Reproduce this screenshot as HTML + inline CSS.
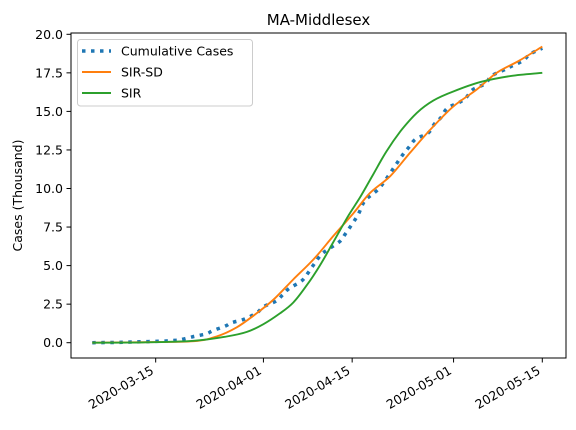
<!DOCTYPE html>
<html><head><meta charset="utf-8"><style>body{margin:0;background:#fff}svg{display:block;font-family:"DejaVu Sans","Liberation Sans",sans-serif}</style></head>
<body>
<svg id="c" width="576" height="430"></svg>
<script>
const xTickLabels=["2020-03-15","2020-04-01","2020-04-15","2020-05-01","2020-05-15"];
const xTickDays=[10,27,41,57,71];
const yTicks=[0,2.5,5,7.5,10,12.5,15,17.5,20];
const yTickLabels=["0.0","2.5","5.0","7.5","10.0","12.5","15.0","17.5","20.0"];
const casesDays=[0,4,7,11,13,14,16,18,19,21,22,24,26,27,29,30,31,33,34,35,36,37,39,40,41,42,43,45,46,47,48,49,50,51,53,54,55,56,58,59,60,62,63,65,66,68,69,71];
const casesVals=[0,0.02,0.05,0.1,0.15,0.2,0.4,0.58,0.78,1.08,1.3,1.53,1.95,2.33,2.7,3.09,3.5,4.0,4.5,5.1,5.66,6.0,6.55,7.1,7.7,8.35,9.2,9.9,10.4,11.0,11.6,12.2,12.7,13.2,13.6,14.2,14.6,15.2,15.6,15.9,16.4,16.8,17.3,17.7,17.9,18.3,18.7,19.1];
const sirsdDays=[0,8,16,19.6,22.8,25.9,28.6,31.7,34.9,38,41.2,43.8,47,50.1,53.3,56.9,60.6,63.8,67.4,71];
const sirsdVals=[0,0.03,0.1,0.4,1.0,1.9,2.8,4.1,5.4,6.9,8.4,9.7,10.8,12.3,13.8,15.3,16.4,17.5,18.3,19.2];
const sirDays=[0,8,16,21.2,24.4,27,29.6,31.7,33.8,35.9,38,40.2,42.2,44.3,46.4,48.6,51.2,53.8,57,61.2,66.1,71];
const sirVals=[0,0.02,0.12,0.4,0.7,1.2,1.9,2.6,3.7,5.0,6.5,8.1,9.4,10.9,12.4,13.7,14.9,15.7,16.3,16.9,17.3,17.5];

const L=71,R=566,T=33,B=358;
const X=d=>92.3+6.338*d;
const Y=v=>342.7-15.42*v;
const svg=document.getElementById('c');
const NS='http://www.w3.org/2000/svg';
function mk(t,a,p){const e=document.createElementNS(NS,t);for(const k in a)e.setAttribute(k,a[k]);(p||svg).appendChild(e);return e;}

const title=mk('text',{x:(L+R)/2,y:T-8,'text-anchor':'middle','font-size':15});


title.textContent='MA-Middlesex';

const yl=mk('text',{x:0,y:0,'text-anchor':'middle','font-size':12.5,transform:`translate(22,${(T+B)/2}) rotate(-90)`});


yl.textContent='Cases (Thousand)';

yTicks.forEach((v,i)=>{
  const tk=mk('line',{x1:L-4.5,x2:L,y1:Y(v),y2:Y(v),stroke:'#000','stroke-width':1});
  
  
  const t=mk('text',{x:L-8,y:Y(v)+4.5,'text-anchor':'end','font-size':12.5});
  
  
  t.textContent=yTickLabels[i];
});
xTickDays.forEach((d,i)=>{
  const tk=mk('line',{x1:X(d),x2:X(d),y1:B,y2:B+4.5,stroke:'#000','stroke-width':1});
  
  
  const t=mk('text',{x:0,y:0,'text-anchor':'end','font-size':12.5,transform:`translate(${X(d)-1},${B+15}) rotate(-30)`});
  
  
  t.textContent=xTickLabels[i];
});

function smooth(ds,vs){
  const p=ds.map((d,i)=>[X(d),Y(vs[i])]);
  let s='M'+p[0][0].toFixed(1)+','+p[0][1].toFixed(1);
  for(let i=0;i<p.length-1;i++){
    const p0=p[Math.max(0,i-1)],p1=p[i],p2=p[i+1],p3=p[Math.min(p.length-1,i+2)];
    const c1=[p1[0]+(p2[0]-p0[0])/6,p1[1]+(p2[1]-p0[1])/6];
    const c2=[p2[0]-(p3[0]-p1[0])/6,p2[1]-(p3[1]-p1[1])/6];
    s+=` C${c1[0].toFixed(1)},${c1[1].toFixed(1)} ${c2[0].toFixed(1)},${c2[1].toFixed(1)} ${p2[0].toFixed(1)},${p2[1].toFixed(1)}`;
  }
  return s;
}
const s1=mk('path',{d:smooth(casesDays,casesVals),fill:'none',stroke:'#1f77b4','stroke-width':3.5,'stroke-dasharray':'3.5,5.5'});


const s2=mk('path',{d:smooth(sirsdDays,sirsdVals),fill:'none',stroke:'#ff7f0e','stroke-width':1.9});


const s3=mk('path',{d:smooth(sirDays,sirVals),fill:'none',stroke:'#2ca02c','stroke-width':1.9});



const fr=mk('rect',{x:L,y:T,width:R-L,height:B-T,fill:'none',stroke:'#000','stroke-width':1});



const lg=mk('g',{});


mk('rect',{x:77.5,y:39.5,width:175,height:66.5,rx:3,fill:'#fff','fill-opacity':0.8,stroke:'#ccc'},lg);
const ent=[['Cumulative Cases','#1f77b4',true],['SIR-SD','#ff7f0e',false],['SIR','#2ca02c',false]];
ent.forEach((e,i)=>{
  const y=51+i*21;
  const g=mk('g',{},lg);
  
  
  mk('line',{x1:82,x2:111,y1:y,y2:y,stroke:e[1],'stroke-width':e[2]?3.5:1.9,'stroke-dasharray':e[2]?'3.5,5.5':'none'},g);
  const t=mk('text',{x:121,y:y+4.5,'font-size':12.5},g);
  t.textContent=e[0];
});
</script>
</body></html>
